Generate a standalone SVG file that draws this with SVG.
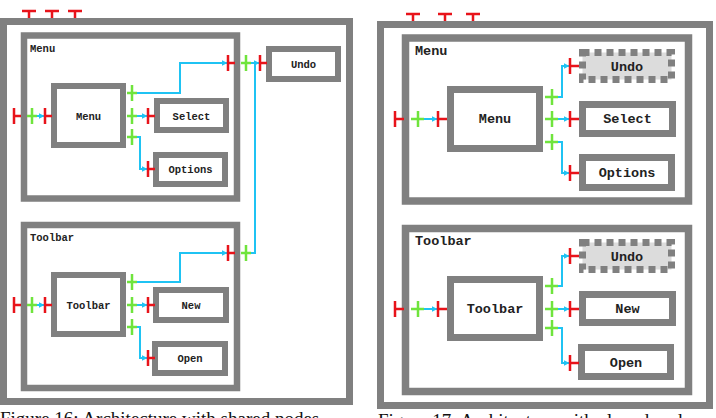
<svg xmlns="http://www.w3.org/2000/svg" xmlns:xlink="http://www.w3.org/1999/xlink" width="716" height="418" viewBox="0 0 716 418">
<style>
.frame{fill:#fff;stroke:#808080;stroke-width:7}
.cont{fill:#fff;stroke:#808080;stroke-width:6.5}
.contR{fill:#fff;stroke:#808080;stroke-width:7.5}
.node{fill:#fff;stroke:#808080;stroke-width:6}
.nodeR{fill:#fff;stroke:#808080;stroke-width:7}
.ghost{fill:#dcdcdc;stroke:#808080;stroke-width:7;stroke-dasharray:7 5}
.t{font-family:"Liberation Mono","DejaVu Sans Mono",monospace;font-weight:bold;fill:#222}
.s{font-size:10.5px}
.b{font-size:13.5px}
.c{text-anchor:middle}
.red{fill:none;stroke:#e8131a;stroke-width:2.5}
.grn{fill:none;stroke:#6fe43c;stroke-width:2.5}
.blu{fill:none;stroke:#1fc3f3;stroke-width:2;marker-end:url(#arr)}
.bl{fill:none;stroke:#1fc3f3;stroke-width:2}
.cap{font-family:"Liberation Serif","Times New Roman",serif;font-size:19px;fill:#111}
</style>
<defs>
<marker id="arr" viewBox="0 0 6 6" refX="5.5" refY="3" markerWidth="6" markerHeight="6" markerUnits="userSpaceOnUse" orient="auto"><path d="M0,0L6,3L0,6z" fill="#1fc3f3"/></marker>
<path id="pR" class="red" d="M0,-8V8M0,0H7"/>
<path id="pD" class="red" d="M-7,0H7M0,0V7"/>
<path id="gX" class="grn" d="M0,-8V8M-5,0H5"/>
<path id="pRb" class="red" d="M0,-8V8M0,0H9"/>
<path id="gXb" class="grn" d="M0,-8V8M-7,0H6"/>
</defs>

<!-- Left figure -->
<g id="left-root">
<rect class="frame" x="3.5" y="21.5" width="346" height="380"/>
<use xlink:href="#pD" x="29" y="11"/><use xlink:href="#pD" x="52" y="11"/><use xlink:href="#pD" x="75" y="11"/>
</g>
<g id="left-menu-container">
<rect class="cont" x="24" y="35.5" width="213" height="163"/>
<text class="t s" x="30" y="52">Menu</text>
</g>
<g id="left-menu"><rect class="node" x="54" y="86" width="69" height="59"/><text class="t s c" x="88.5" y="119.5">Menu</text></g>
<g id="left-select"><rect class="node" x="157" y="101" width="69" height="29"/><text class="t s c" x="191.5" y="119.5">Select</text></g>
<g id="left-options"><rect class="node" x="156" y="155" width="69" height="29"/><text class="t s c" x="190.5" y="173">Options</text></g>
<g id="left-undo"><rect class="node" x="269" y="49" width="69" height="30"/><text class="t s c" x="303.5" y="67.5">Undo</text></g>
<g id="left-toolbar-container">
<rect class="cont" x="24" y="225" width="213" height="163"/>
<text class="t s" x="30" y="241">Toolbar</text>
</g>
<g id="left-toolbar"><rect class="node" x="54" y="275" width="69" height="59"/><text class="t s c" x="88.5" y="308.5">Toolbar</text></g>
<g id="left-new"><rect class="node" x="156" y="290" width="70" height="30"/><text class="t s c" x="191" y="308.5">New</text></g>
<g id="left-open"><rect class="node" x="155" y="344" width="70" height="29"/><text class="t s c" x="190" y="362">Open</text></g>

<!-- Right figure -->
<g id="right-root">
<rect class="frame" x="380.5" y="24.5" width="329" height="381"/>
<use xlink:href="#pD" x="413" y="14"/><use xlink:href="#pD" x="445" y="14"/><use xlink:href="#pD" x="473" y="14"/>
</g>
<g id="right-menu-container">
<rect class="contR" x="405.5" y="38" width="283" height="163"/>
<text class="t b" x="415" y="55">Menu</text>
</g>
<g id="right-menu"><rect class="nodeR" x="450.5" y="89.5" width="89" height="59"/><text class="t b c" x="495" y="123">Menu</text></g>
<g id="right-undo-1"><rect class="ghost" x="582.5" y="52.5" width="89" height="27"/><text class="t b c" x="627" y="71">Undo</text></g>
<g id="right-select"><rect class="nodeR" x="582.5" y="104.5" width="90" height="29"/><text class="t b c" x="627.5" y="123">Select</text></g>
<g id="right-options"><rect class="nodeR" x="582.5" y="157.5" width="89" height="30"/><text class="t b c" x="627" y="177">Options</text></g>
<g id="right-toolbar-container">
<rect class="contR" x="405.5" y="228.5" width="283" height="163"/>
<text class="t b" x="415" y="245">Toolbar</text>
</g>
<g id="right-toolbar"><rect class="nodeR" x="450.5" y="279.5" width="89" height="58"/><text class="t b c" x="495" y="313">Toolbar</text></g>
<g id="right-undo-2"><rect class="ghost" x="582.5" y="242.5" width="89" height="27"/><text class="t b c" x="627" y="261">Undo</text></g>
<g id="right-new"><rect class="nodeR" x="582.5" y="294.5" width="90" height="28"/><text class="t b c" x="627.5" y="313">New</text></g>
<g id="right-open"><rect class="nodeR" x="581.5" y="347.5" width="89" height="29"/><text class="t b c" x="626" y="367">Open</text></g>

<g id="connectors">
<!-- left: menu -->
<use xlink:href="#pR" x="14" y="116"/><use xlink:href="#gX" x="32" y="116"/>
<path class="blu" d="M37,116H44"/><use xlink:href="#pR" x="45" y="116"/>
<use xlink:href="#gX" x="132" y="93"/><use xlink:href="#gX" x="132" y="116"/><use xlink:href="#gX" x="132" y="137"/>
<path class="blu" d="M137,93H180V63H227"/><use xlink:href="#pR" x="228" y="63"/>
<path class="blu" d="M137,116H147"/><use xlink:href="#pR" x="148" y="116"/>
<path class="blu" d="M137,137H140V169H147"/><use xlink:href="#pR" x="148" y="169"/>
<use xlink:href="#gX" x="246" y="63"/>
<path class="blu" d="M251,63H259"/><use xlink:href="#pR" x="260" y="63"/>
<!-- left: toolbar -->
<use xlink:href="#pR" x="14" y="305"/><use xlink:href="#gX" x="32" y="305"/>
<path class="blu" d="M37,305H44"/><use xlink:href="#pR" x="45" y="305"/>
<use xlink:href="#gX" x="132" y="282"/><use xlink:href="#gX" x="132" y="305"/><use xlink:href="#gX" x="132" y="327"/>
<path class="blu" d="M137,282H180V253H227"/><use xlink:href="#pR" x="228" y="253"/>
<path class="blu" d="M137,305H147"/><use xlink:href="#pR" x="148" y="305"/>
<path class="blu" d="M137,327H140V358H147"/><use xlink:href="#pR" x="148" y="358"/>
<use xlink:href="#gX" x="246" y="253"/>
<path class="bl" d="M251,253H255V63"/>
<!-- right: menu -->
<use xlink:href="#pRb" x="395" y="119"/><use xlink:href="#gXb" x="418" y="119"/>
<path class="blu" d="M424,119H437"/><use xlink:href="#pRb" x="438" y="119"/>
<use xlink:href="#gXb" x="552" y="97"/><use xlink:href="#gXb" x="552" y="119"/><use xlink:href="#gXb" x="552" y="142"/>
<path class="blu" d="M558,97H562V66H569"/><use xlink:href="#pRb" x="570" y="66"/>
<path class="blu" d="M558,119H569"/><use xlink:href="#pRb" x="570" y="119"/>
<path class="blu" d="M558,142H562V173H569"/><use xlink:href="#pRb" x="570" y="173"/>
<!-- right: toolbar -->
<use xlink:href="#pRb" x="395" y="309"/><use xlink:href="#gXb" x="418" y="309"/>
<path class="blu" d="M424,309H437"/><use xlink:href="#pRb" x="438" y="309"/>
<use xlink:href="#gXb" x="552" y="286"/><use xlink:href="#gXb" x="552" y="309"/><use xlink:href="#gXb" x="552" y="328"/>
<path class="blu" d="M558,286H562V256H569"/><use xlink:href="#pRb" x="570" y="256"/>
<path class="blu" d="M558,309H569"/><use xlink:href="#pRb" x="570" y="309"/>
<path class="blu" d="M558,328H562V363H569"/><use xlink:href="#pRb" x="570" y="363"/>
</g>

<text class="cap" x="0" y="425">Figure 16: Architecture with shared nodes</text>
<text class="cap" x="378" y="427">Figure 17: Architecture with cloned nodes</text>
</svg>
